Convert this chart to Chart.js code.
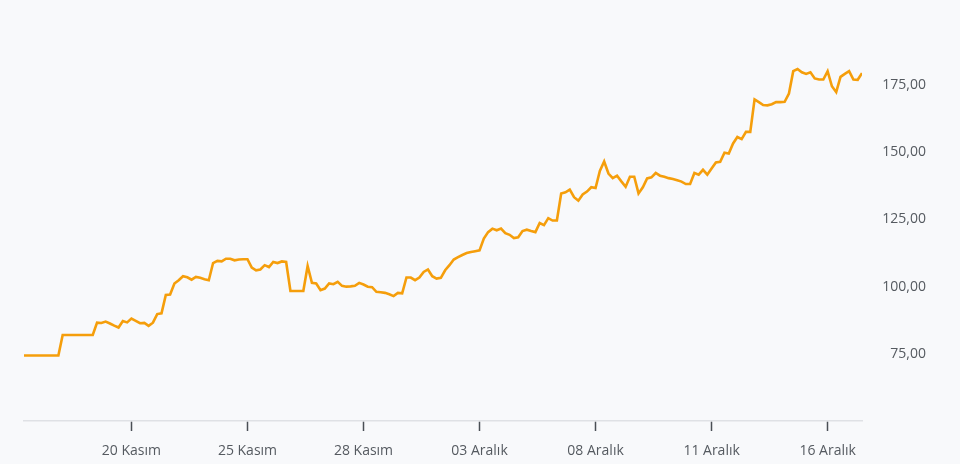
<!DOCTYPE html>
<html>
<head>
<meta charset="utf-8">
<script src="https://cdn.jsdelivr.net/npm/chart.js@4.4.1/dist/chart.umd.min.js"></script>
<style>
  html, body { margin: 0; padding: 0; background: #f8f9fb; }
  #wrap { width: 960px; height: 464px; }
</style>
</head>
<body>
<div id="wrap"><canvas id="grafico"></canvas></div>
<script>
// fiyat serisi (esit aralikli noktalar)
const prices = [
  74.4, 74.4, 74.4, 74.4, 74.4, 74.4, 74.4, 74.4, 74.4, 82.0,
  82.0, 82.0, 82.0, 82.0, 82.0, 82.0, 82.0, 86.6, 86.5, 87.0,
  86.3, 85.5, 84.8, 87.2, 86.7, 88.1, 87.3, 86.4, 86.5, 85.4,
  86.6, 89.8, 90.1, 96.9, 97.1, 101.2, 102.4, 103.9, 103.5, 102.6,
  103.6, 103.3, 102.8, 102.4, 108.8, 109.6, 109.4, 110.4, 110.4, 109.8,
  110.1, 110.2, 110.2, 107.1, 106.1, 106.4, 108.0, 107.3, 109.2, 108.8,
  109.4, 109.2, 98.4, 98.4, 98.4, 98.4, 107.7, 101.4, 101.2, 98.7,
  99.3, 101.2, 100.9, 101.8, 100.3, 100.0, 100.1, 100.3, 101.4, 100.8,
  100.0, 99.8, 98.1, 97.9, 97.7, 97.2, 96.5, 97.7, 97.5, 103.4,
  103.4, 102.4, 103.4, 105.5, 106.4, 103.9, 103.0, 103.3, 106.1, 108.0,
  110.1, 111.0, 111.8, 112.5, 112.9, 113.2, 113.5, 117.9, 120.3, 121.6,
  121.0, 121.6, 119.9, 119.3, 118.1, 118.4, 120.7, 121.2, 120.7, 120.3,
  123.7, 122.9, 125.5, 124.6, 124.6, 134.7, 135.1, 136.1, 133.3, 132.0,
  134.3, 135.4, 137.0, 136.7, 143.1, 146.6, 142.1, 140.4, 141.3, 139.2,
  137.2, 140.9, 140.9, 134.7, 137.0, 140.3, 140.7, 142.3, 141.3, 140.9,
  140.4, 140.1, 139.6, 139.1, 138.2, 138.2, 142.3, 141.7, 143.5, 141.7,
  144.0, 146.2, 146.5, 149.9, 149.6, 153.3, 155.7, 154.9, 157.6, 157.6,
  169.7, 168.7, 167.6, 167.5, 167.9, 168.7, 168.7, 168.8, 171.9, 180.2,
  181.0, 179.8, 179.2, 179.8, 177.5, 177.1, 177.1, 180.2, 174.6, 172.4,
  178.1, 179.2, 180.2, 177.1, 177.0, 179.5
];

// x ekseni etiketleri ve hangi noktaya denk geldikleri
const tickIdx = [25, 52, 79, 106, 133, 160, 187];
const tickLabels = ['20 Kasım', '25 Kasım', '28 Kasım', '03 Aralık', '08 Aralık', '11 Aralık', '16 Aralık'];

// y ekseni
const yTicks = [75, 100, 125, 150, 175];
const yMin = 50;
const yMax = 200;

const points = prices.map((p, i) => ({x: i, y: p}));

const fontFam = '"Open Sans", "Noto Sans", sans-serif';

let ctx = document.getElementById('grafico');

new Chart(ctx.getContext('2d'), {
    type: 'line',
    data: {
        datasets: [{
            label: 'Fiyat',
            data: points,
            borderColor: '#f59e0b',
            borderWidth: 2.6,
            pointRadius: 0,
            tension: 0,
            fill: false
        }]
    },
    options: {
        responsive: true,
        maintainAspectRatio: false,
        animation: false,
        layout: {
            padding: {left: 24, top: 18, right: 34, bottom: 0}
        },
        plugins: {
            legend: {display: false},
            title: {display: false},
            tooltip: {enabled: false}
        },
        scales: {
            x: {
                type: 'linear',
                min: 0,
                max: prices.length - 1,
                afterBuildTicks: (scale) => {
                    scale.ticks = tickIdx.map(v => ({value: v}));
                },
                afterFit: (scale) => {
                    scale.height = 43;
                },
                ticks: {
                    autoSkip: false,
                    maxRotation: 0,
                    padding: 12,
                    color: '#555a60',
                    font: {family: fontFam, size: 14},
                    callback: (v, i) => tickLabels[i]
                },
                grid: {
                    drawOnChartArea: false,
                    drawTicks: true,
                    tickLength: 10,
                    tickColor: '#4a4f55',
                    tickWidth: 1.5
                },
                border: {
                    display: true,
                    color: '#dfe1e5',
                    width: 1.5
                }
            },
            y: {
                position: 'right',
                min: yMin,
                max: yMax,
                afterBuildTicks: (scale) => {
                    scale.ticks = yTicks.map(v => ({value: v}));
                },
                afterFit: (scale) => {
                    scale.width = 64;
                    scale.paddingTop = 0;
                    scale.paddingBottom = 0;
                },
                ticks: {
                    crossAlign: 'far',
                    padding: 10,
                    color: '#555a60',
                    font: {family: fontFam, size: 14},
                    callback: (v) => v.toFixed(2).replace('.', ',')
                },
                grid: {display: false, drawTicks: false},
                border: {display: false}
            }
        }
    }
});
</script>
</body>
</html>
